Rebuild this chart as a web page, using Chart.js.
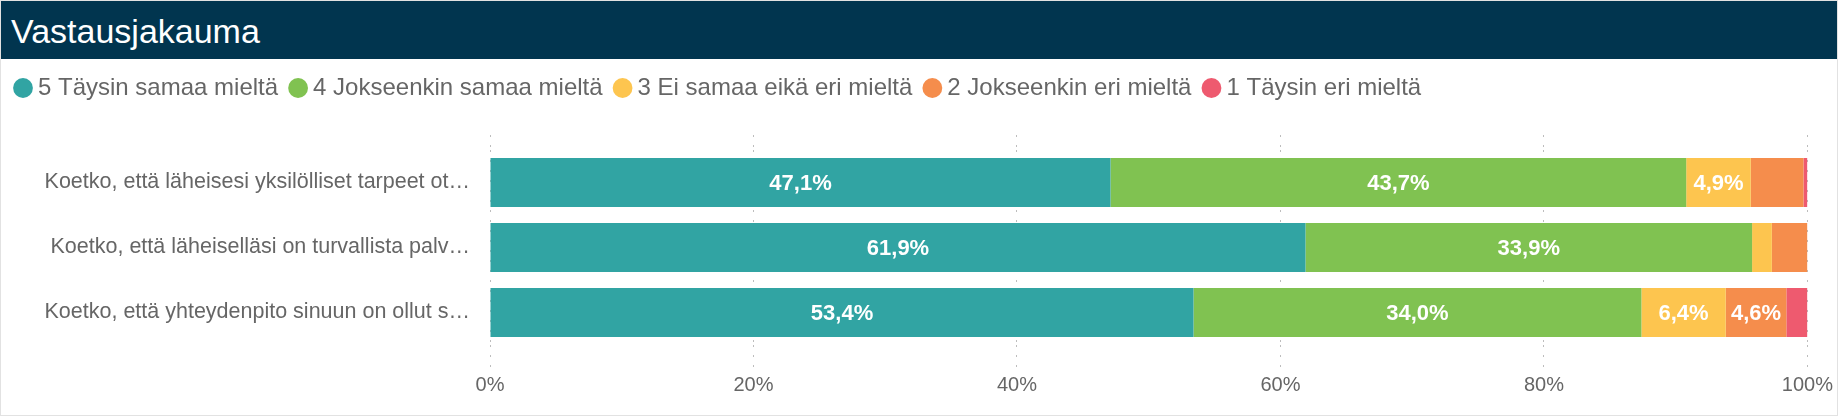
<!DOCTYPE html>
<html>
<head>
<meta charset="utf-8">
<script src="https://cdn.jsdelivr.net/npm/chart.js@4"></script>
<style>
  html, body { margin: 0; padding: 0; background: #fff; }
  #kortti { position: relative; width: 1838px; height: 416px; box-sizing: border-box; border: 1px solid #e2e2e2; overflow: hidden; font-family: "Liberation Sans", Arial, sans-serif; }
  #otsikko { position: absolute; left: 0; top: 0; width: 1838px; height: 58px; background: #01354f; }
  #otsikko span { position: absolute; left: 10px; top: 13px; font-size: 34px; line-height: 34px; color: #fff; }
  #alue { position: absolute; left: 0; top: 58px; width: 1838px; height: 356px; }
</style>
</head>
<body>
<div id="kortti">
  <div id="otsikko"><span>Vastausjakauma</span></div>
  <div id="alue"><canvas id="grafiikka"></canvas></div>
</div>
<script>
// Kysymykset (katkaistu kuten kuvassa)
var kysymykset = [
  'Koetko, että läheisesi yksilölliset tarpeet ot…',
  'Koetko, että läheiselläsi on turvallista palv…',
  'Koetko, että yhteydenpito sinuun on ollut s…'
];

// Vastausten osuudet (%)
var taysinSamaa = [47.1, 61.9, 53.4];
var jokseenkinSamaa = [43.7, 33.9, 34.0];
var eiSamaaEikaEri = [4.9, 1.5, 6.4];
var jokseenkinEri = [4.0, 2.7, 4.6];
var taysinEri = [0.3, 0.0, 1.6];

var asteikko = [0, 20, 40, 60, 80, 100];

var harmaa = '#666666';
var ruudukko = '#bdbdbd';

// Prosenttiluvut palkkien sisään
var arvoTekstit = {
  id: 'arvoTekstit',
  afterDatasetsDraw: function(chart) {
    var ctx = chart.ctx;
    ctx.save();
    ctx.font = 'bold 22px "Liberation Sans", Arial, sans-serif';
    ctx.fillStyle = '#ffffff';
    ctx.textAlign = 'center';
    ctx.textBaseline = 'middle';
    chart.data.datasets.forEach(function(ds, i) {
      var meta = chart.getDatasetMeta(i);
      meta.data.forEach(function(palkki, j) {
        var p = palkki.getProps(['x', 'y', 'base'], true);
        var leveys = Math.abs(p.x - p.base);
        var teksti = ds.data[j].toFixed(1).replace('.', ',') + '%';
        if (ctx.measureText(teksti).width + 8 < leveys) {
          ctx.fillText(teksti, (p.x + p.base) / 2, p.y + 1);
        }
      });
    });
    ctx.restore();
  }
};

// Lisää tilaa selitteen alle
var selitteenVali = {
  id: 'selitteenVali',
  beforeInit: function(chart) {
    var fit = chart.legend.fit;
    chart.legend.fit = function() {
      fit.bind(chart.legend)();
      this.height += 25;
    };
  }
};

var ctx = document.getElementById('grafiikka').getContext('2d');

var config = {
  type: 'bar',
  data: {
    labels: kysymykset,
    datasets: [
      { label: '5 Täysin samaa mieltä', data: taysinSamaa, backgroundColor: '#31a4a3' },
      { label: '4 Jokseenkin samaa mieltä', data: jokseenkinSamaa, backgroundColor: '#80c251' },
      { label: '3 Ei samaa eikä eri mieltä', data: eiSamaaEikaEri, backgroundColor: '#fdc54f' },
      { label: '2 Jokseenkin eri mieltä', data: jokseenkinEri, backgroundColor: '#f58d4c' },
      { label: '1 Täysin eri mieltä', data: taysinEri, backgroundColor: '#ee5a6f' }
    ]
  },
  options: {
    indexAxis: 'y',
    responsive: true,
    maintainAspectRatio: false,
    animation: false,
    datasets: {
      bar: { barPercentage: 0.754, categoryPercentage: 1.0, borderWidth: 0 }
    },
    layout: { padding: { left: 2, right: 29, top: 0, bottom: 12 } },
    plugins: {
      legend: {
        position: 'top',
        align: 'start',
        labels: {
          usePointStyle: true,
          pointStyle: 'circle',
          boxWidth: 6,
          boxHeight: 14,
          padding: 17,
          color: harmaa,
          font: { size: 24, family: '"Liberation Sans", Arial, sans-serif' }
        }
      },
      tooltip: { enabled: false }
    },
    scales: {
      x: {
        stacked: true,
        min: 0,
        max: 100,
        afterBuildTicks: function(scale) {
          scale.ticks = asteikko.map(function(v) { return { value: v }; });
        },
        ticks: {
          color: harmaa,
          padding: 6,
          font: { size: 20, family: '"Liberation Sans", Arial, sans-serif' },
          callback: function(v) { return v + '%'; }
        },
        grid: { color: ruudukko, tickColor: ruudukko, tickLength: 22, tickBorderDash: [2, 8] },
        border: { display: false, dash: [2, 8] }
      },
      x2: {
        position: 'top',
        type: 'linear',
        min: 0,
        max: 100,
        afterBuildTicks: function(scale) {
          scale.ticks = asteikko.map(function(v) { return { value: v }; });
        },
        ticks: { display: false },
        grid: { drawOnChartArea: false, tickColor: ruudukko, tickLength: 15, tickBorderDash: [2, 8] },
        border: { display: false }
      },
      y: {
        stacked: true,
        afterFit: function(scale) { scale.width = 487; },
        ticks: {
          color: harmaa,
          padding: 20,
          font: { size: 21.5, family: '"Liberation Sans", Arial, sans-serif' }
        },
        grid: { display: false, drawTicks: false },
        border: { display: false }
      }
    }
  },
  plugins: [arvoTekstit, selitteenVali]
};

var grafiikka = new Chart(ctx, config);
</script>
</body>
</html>
